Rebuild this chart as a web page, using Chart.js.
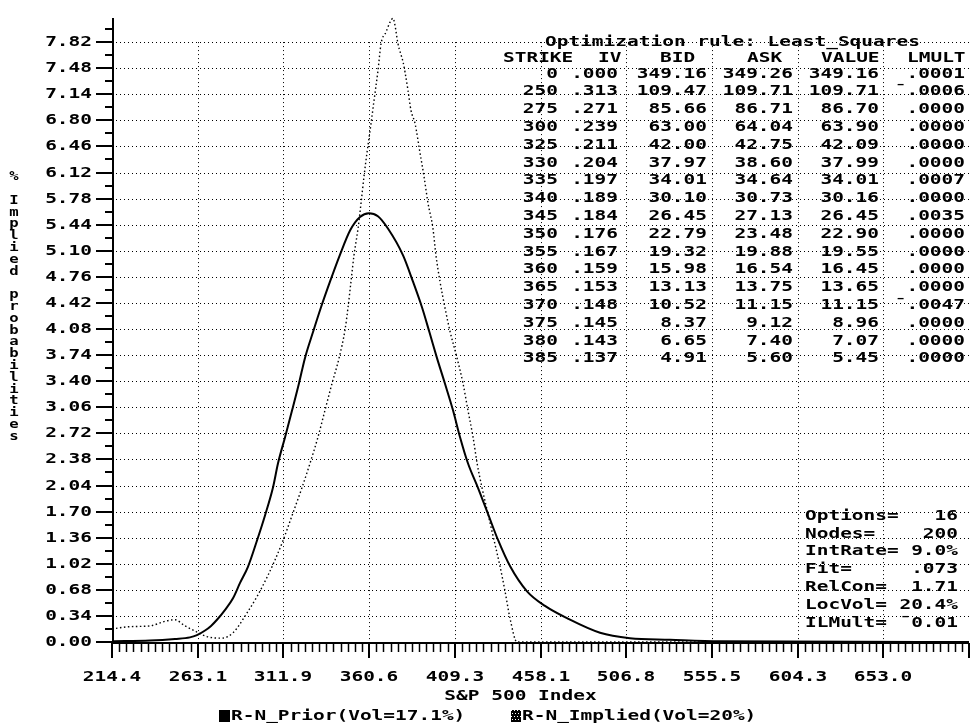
<!DOCTYPE html>
<html>
<head>
<meta charset="utf-8">
<script src="https://cdn.jsdelivr.net/npm/chart.js@4.4.1/dist/chart.umd.min.js"></script>
<style>
  html, body { margin: 0; padding: 0; background: #fff; }
  canvas { display: block; }
</style>
</head>
<body>
<canvas id="c" width="972" height="723"></canvas>
<script>
// ---------- DATA ----------
const xTickLabels = ["214.4", "263.1", "311.9", "360.6", "409.3", "458.1", "506.8", "555.5", "604.3", "653.0"];
const xAxisMax = 701.7;
const yTickLabels = ["0.00", "0.34", "0.68", "1.02", "1.36", "1.70", "2.04", "2.38", "2.72", "3.06", "3.40", "3.74",
  "4.08", "4.42", "4.76", "5.10", "5.44", "5.78", "6.12", "6.46", "6.80", "7.14", "7.48", "7.82"];
const yAxisMax = 8.16;

const xTitle = "S&P 500 Index";
const yTitle = "% Implied probabilities";

const priorLabel = "R-N_Prior(Vol=17.1%)";
const priorX = [214.4, 236.0, 250.2, 258.7, 262.7, 267.3, 270.7, 274.1, 278.7, 283.2, 287.2, 291.7, 296.8, 301.4,
  305.9, 308.8, 312.8, 316.8, 320.7, 324.1, 328.7, 333.2, 338.4, 343.9, 349.9, 355.4, 360.5, 365.6, 371.3,
  379.9, 385.5, 390.7, 395.0, 399.2, 403.7, 408.3, 412.3, 416.8, 422.5, 428.2, 433.9, 440.7, 450.4, 460.6,
  473.1, 491.9, 508.9, 531.7, 560.1, 701.7];
const priorY = [0.01, 0.02, 0.04, 0.06, 0.09, 0.15, 0.21, 0.29, 0.42, 0.57, 0.77, 0.98, 1.32, 1.65,
  2.01, 2.33, 2.67, 3.02, 3.37, 3.70, 4.04, 4.36, 4.70, 5.04, 5.37, 5.54, 5.59, 5.55, 5.39,
  5.04, 4.70, 4.36, 4.03, 3.70, 3.37, 3.02, 2.67, 2.33, 2.01, 1.67, 1.33, 0.99, 0.66, 0.47,
  0.31, 0.12, 0.05, 0.03, 0.01, 0.00];

const impliedLabel = "R-N_Implied(Vol=20%)";
const impliedX = [214.4, 224.6, 236.0, 244.5, 250.2, 255.9, 262.7, 268.4, 276.9, 283.2, 291.2, 296.8, 303.1,
  307.1, 311.6, 316.8, 322.4, 327.0, 331.5, 335.5, 339.5, 343.5, 346.9, 348.6, 350.3, 352.0, 354.3, 356.0,
  357.7, 359.4, 361.7, 363.4, 365.6, 367.4, 370.2, 372.5, 374.2, 375.3, 377.0, 379.9, 381.0, 382.7, 384.4,
  386.7, 389.5, 391.8, 394.1, 396.9, 398.6, 400.9, 403.7, 406.6, 410.6, 414.0, 416.8, 419.7, 422.0, 424.8,
  428.2, 431.6, 435.0, 437.9, 440.7, 444.7, 701.7];
const impliedY = [0.17, 0.20, 0.21, 0.27, 0.29, 0.21, 0.13, 0.07, 0.05, 0.12, 0.38, 0.59, 0.87,
  1.07, 1.32, 1.65, 2.01, 2.33, 2.67, 3.02, 3.37, 3.70, 4.07, 4.36, 4.70, 5.04, 5.39, 5.72,
  6.07, 6.38, 6.76, 7.06, 7.44, 7.80, 7.95, 8.08, 8.13, 8.04, 7.80, 7.56, 7.43, 7.19, 6.93,
  6.76, 6.38, 6.07, 5.72, 5.39, 5.04, 4.70, 4.36, 4.05, 3.70, 3.37, 3.02, 2.67, 2.33, 2.01,
  1.67, 1.33, 0.99, 0.66, 0.31, 0.00, 0.00];

// table
const tableTitle = "Optimization rule: Least_Squares";
const tableHeaders = ["STRIKE", "IV", "BID", "ASK", "VALUE", "LMULT"];
const strikes = ["0", "250", "275", "300", "325", "330", "335", "340", "345", "350", "355", "360", "365", "370", "375", "380", "385"];
const ivs = [".000", ".313", ".271", ".239", ".211", ".204", ".197", ".189", ".184", ".176", ".167", ".159", ".153", ".148", ".145", ".143", ".137"];
const bids = ["349.16", "109.47", "85.66", "63.00", "42.00", "37.97", "34.01", "30.10", "26.45", "22.79", "19.32", "15.98", "13.13", "10.52", "8.37", "6.65", "4.91"];
const asks = ["349.26", "109.71", "86.71", "64.04", "42.75", "38.60", "34.64", "30.73", "27.13", "23.48", "19.88", "16.54", "13.75", "11.15", "9.12", "7.40", "5.60"];
const values = ["349.16", "109.71", "86.70", "63.90", "42.09", "37.99", "34.01", "30.16", "26.45", "22.90", "19.55", "16.45", "13.65", "11.15", "8.96", "7.07", "5.45"];
const lmults = [".0001", "\u00AF.0006", ".0000", ".0000", ".0000", ".0000", ".0007", ".0000", ".0035", ".0000", ".0000", ".0000", ".0000", "\u00AF.0047", ".0000", ".0000", ".0000"];

// options box
const optNames = ["Options=", "Nodes=", "IntRate=", "Fit=", "RelCon=", "LocVol=", "ILMult="];
const optValues = ["16", "200", "9.0%", ".073", "1.71", "20.4%", "\u00AF0.01"];

// ---------- DRAWING ----------
const FONT = "bold 14px 'DejaVu Sans Mono'";
const SX = 1.39;

function wideText(ctx, str, x, y, align, font, sx) {
  ctx.save();
  ctx.font = font || FONT;
  const s = sx || SX;
  const w = ctx.measureText(str).width * s;
  let left = x;
  if (align === 'right') left = x - w;
  else if (align === 'center') left = x - w / 2;
  ctx.translate(left, y);
  ctx.scale(s, 1);
  ctx.textAlign = 'left';
  ctx.textBaseline = 'middle';
  ctx.fillStyle = '#000';
  ctx.fillText(str, 0, 0);
  ctx.restore();
}

const decor = {
  id: 'decor',
  beforeDatasetsDraw(chart) {
    const { ctx, chartArea: a, scales: { x, y } } = chart;
    ctx.save();
    ctx.strokeStyle = '#000';
    ctx.lineWidth = 1;
    ctx.setLineDash([1, 3]);
    const yTop = y.getPixelForValue(parseFloat(yTickLabels[yTickLabels.length - 1]));
    yTickLabels.forEach((t, i) => {
      if (i === 0) return;
      const py = Math.round(y.getPixelForValue(parseFloat(t))) + 0.5;
      ctx.beginPath(); ctx.moveTo(a.left, py); ctx.lineTo(a.right, py); ctx.stroke();
    });
    xTickLabels.forEach((t, i) => {
      if (i === 0) return;
      const px = Math.round(x.getPixelForValue(parseFloat(t))) + 0.5;
      ctx.beginPath(); ctx.moveTo(px, yTop); ctx.lineTo(px, a.bottom); ctx.stroke();
    });
    ctx.restore();
  },
  afterDatasetsDraw(chart) {
    const { ctx, chartArea: a, scales: { x, y } } = chart;
    ctx.save();
    ctx.strokeStyle = '#000';
    ctx.setLineDash([]);
    const bottom = a.bottom + 1;
    ctx.lineWidth = 2;
    ctx.beginPath(); ctx.moveTo(a.left + 1, a.top + 2); ctx.lineTo(a.left + 1, bottom + 1); ctx.stroke();
    ctx.beginPath(); ctx.moveTo(a.left, bottom); ctx.lineTo(a.right, bottom); ctx.stroke();

    const yStep = parseFloat(yTickLabels[1]) - parseFloat(yTickLabels[0]);
    yTickLabels.forEach(t => {
      const v = parseFloat(t);
      const py = Math.round(y.getPixelForValue(v));
      ctx.lineWidth = 2;
      ctx.beginPath(); ctx.moveTo(a.left - 16, py); ctx.lineTo(a.left + 1, py); ctx.stroke();
      const pm = Math.round(y.getPixelForValue(v + yStep / 2));
      if (pm >= a.top) {
        ctx.beginPath(); ctx.moveTo(a.left - 7, pm); ctx.lineTo(a.left + 1, pm); ctx.stroke();
      }
      wideText(ctx, t, a.left - 20, py, 'right');
    });
    const xVals = xTickLabels.map(parseFloat).concat([xAxisMax]);
    for (let i = 0; i < xVals.length; i++) {
      const px = Math.round(x.getPixelForValue(xVals[i]));
      ctx.lineWidth = 2;
      ctx.beginPath(); ctx.moveTo(px, bottom); ctx.lineTo(px, bottom + 15); ctx.stroke();
      if (i < xTickLabels.length) wideText(ctx, xTickLabels[i], px, bottom + 34, 'center');
      if (i < xVals.length - 1) {
        const step = (xVals[i + 1] - xVals[i]) / 12;
        for (let k = 1; k < 12; k++) {
          const pm = Math.round(x.getPixelForValue(xVals[i] + k * step)) + 0.5;
          ctx.lineWidth = 1.5;
          ctx.beginPath(); ctx.moveTo(pm, bottom); ctx.lineTo(pm, bottom + 9); ctx.stroke();
        }
      }
    }
    wideText(ctx, xTitle, (a.left + a.right) / 2 - 20, 696, 'center');
    const chars = Array.from(yTitle);
    chars.forEach((ch, i) => {
      if (ch === ' ') return;
      wideText(ctx, ch, 14, 177 + i * 11.8, 'center', "bold 12px 'DejaVu Sans Mono'", 1.3);
    });

    ctx.fillStyle = '#000';
    ctx.fillRect(219, 710, 11, 12);
    wideText(ctx, priorLabel, 231, 716, 'left');
    ctx.fillRect(511, 710, 10, 12);
    ctx.fillStyle = '#fff';
    for (let r = 0; r < 12; r += 3) {
      for (let c = (r % 2); c < 10; c += 3) ctx.fillRect(511 + c, 710 + r, 1, 1);
    }
    wideText(ctx, impliedLabel, 522, 716, 'left');

    wideText(ctx, tableTitle, 545, 42, 'left');
    const headLeft = [503, 598, 660, 747, 821, 907];
    tableHeaders.forEach((h, i) => wideText(ctx, h, headLeft[i], 58, 'left'));
    const colRight = [558, 618, 707, 793, 879, 965];
    const cols = [strikes, ivs, bids, asks, values, lmults];
    strikes.forEach((s, r) => {
      const py = 74 + r * 17.8;
      cols.forEach((col, c) => wideText(ctx, col[r], colRight[c], py, 'right'));
    });

    optNames.forEach((n, i) => {
      const py = 516 + i * 17.9;
      wideText(ctx, n, 805, py, 'left');
      wideText(ctx, optValues[i], 958, py, 'right');
    });
    ctx.restore();
  }
};

const ctx = document.getElementById('c').getContext('2d');
new Chart(ctx, {
  type: 'scatter',
  data: {
    datasets: [
      {
        label: priorLabel,
        data: priorX.map((v, i) => ({ x: v, y: priorY[i] })),
        showLine: true,
        borderColor: '#000',
        borderWidth: 2,
        pointRadius: 0,
        cubicInterpolationMode: 'monotone',
        fill: false
      },
      {
        label: impliedLabel,
        data: impliedX.map((v, i) => ({ x: v, y: impliedY[i] })),
        showLine: true,
        borderColor: '#000',
        borderWidth: 1.4,
        borderDash: [1.5, 2.5],
        pointRadius: 0,
        cubicInterpolationMode: 'monotone',
        fill: false
      }
    ]
  },
  options: {
    responsive: false,
    animation: false,
    devicePixelRatio: 1,
    layout: { padding: { left: 112, right: 3, top: 16, bottom: 81 } },
    plugins: { legend: { display: false }, tooltip: { enabled: false } },
    scales: {
      x: { type: 'linear', min: parseFloat(xTickLabels[0]), max: xAxisMax, display: false },
      y: { type: 'linear', min: 0, max: yAxisMax, display: false }
    }
  },
  plugins: [decor]
});
</script>
</body>
</html>
